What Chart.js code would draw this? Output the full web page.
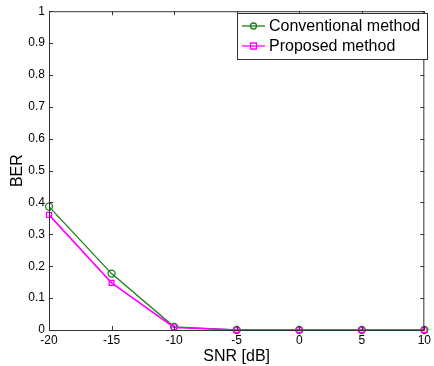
<!DOCTYPE html>
<html lang="en">
<head>
    <meta charset="UTF-8">
    <title>BER vs SNR</title>
    <script src="https://cdn.jsdelivr.net/npm/chart.js"></script>
    <style>
        html, body { margin: 0; padding: 0; background: #fff; }
        #wrap { width: 434px; height: 366px; }
    </style>
</head>
<body>
    <div id="wrap"><canvas id="grafica"></canvas></div>
    <script>
        // --- Datos ---
        const snr = [-20, -15, -10, -5, 0, 5, 10];
        const berConvencional = [0.387, 0.177, 0.010, 0, 0, 0, 0];
        const berPropuesto = [0.361, 0.148, 0.008, 0, 0, 0, 0];
        const nombres = ['Conventional method', 'Proposed method'];
        const xTicks = [-20, -15, -10, -5, 0, 5, 10];
        const yTicks = [0, 0.1, 0.2, 0.3, 0.4, 0.5, 0.6, 0.7, 0.8, 0.9, 1];

        const VERDE = '#1b7f1b';
        const MAGENTA = '#ff00ff';
        const FUENTE = 'Arial, "Liberation Sans", sans-serif';

        // marco + ticks hacia adentro (estilo MATLAB)
        const marcoPlugin = {
            id: 'marco',
            afterDatasetsDraw(chart) {
                const { ctx, chartArea: a, scales } = chart;
                ctx.save();
                ctx.strokeStyle = '#333';
                ctx.lineWidth = 1;
                ctx.strokeRect(a.left + 0.5, a.top + 0.5, a.right - a.left - 1, a.bottom - a.top);
                ctx.beginPath();
                const len = 4;
                xTicks.forEach(v => {
                    const x = Math.round(scales.x.getPixelForValue(v)) + 0.5;
                    ctx.moveTo(x, a.bottom); ctx.lineTo(x, a.bottom - len);
                    ctx.moveTo(x, a.top); ctx.lineTo(x, a.top + len);
                });
                yTicks.forEach(v => {
                    const y = Math.round(scales.y.getPixelForValue(v)) + 0.5;
                    ctx.moveTo(a.left, y); ctx.lineTo(a.left + len, y);
                    ctx.moveTo(a.right, y); ctx.lineTo(a.right - len, y);
                });
                ctx.stroke();
                ctx.restore();
            },
            afterDraw(chart) {
                // leyenda dentro del área
                const { ctx } = chart;
                const colores = [VERDE, MAGENTA];
                const estilos = ['circle', 'rect'];
                const x0 = 237, y0 = 13, w = 190, h = 46;
                ctx.save();
                ctx.fillStyle = '#fff';
                ctx.fillRect(x0, y0, w, h);
                ctx.strokeStyle = '#333';
                ctx.lineWidth = 1;
                ctx.strokeRect(x0 + 0.5, y0 + 0.5, w, h);
                ctx.font = '16px ' + FUENTE;
                ctx.textBaseline = 'middle';
                nombres.forEach((n, i) => {
                    const y = y0 + 13 + i * 20;
                    ctx.strokeStyle = colores[i];
                    ctx.lineWidth = 1.3;
                    ctx.beginPath();
                    ctx.moveTo(x0 + 5, y); ctx.lineTo(x0 + 28, y);
                    ctx.stroke();
                    ctx.beginPath();
                    if (estilos[i] === 'circle') ctx.arc(x0 + 16.5, y, 3, 0, Math.PI * 2);
                    else ctx.rect(x0 + 13.5, y - 3, 6, 6);
                    ctx.stroke();
                    ctx.fillStyle = '#000';
                    ctx.fillText(n, x0 + 32, y + 1);
                });
                ctx.restore();
            }
        };

        new Chart(document.getElementById('grafica'), {
            type: 'line',
            data: {
                labels: snr,
                datasets: [{
                    label: nombres[0],
                    data: snr.map((s, i) => ({ x: s, y: berConvencional[i] })),
                    borderColor: VERDE,
                    backgroundColor: 'transparent',
                    borderWidth: 1.3,
                    pointStyle: 'circle',
                    pointRadius: 3.5,
                    pointBorderWidth: 1.3,
                    pointBackgroundColor: 'transparent',
                    pointBorderColor: VERDE,
                    tension: 0,
                    clip: false,
                    order: 1
                }, {
                    label: nombres[1],
                    data: snr.map((s, i) => ({ x: s, y: berPropuesto[i] })),
                    borderColor: MAGENTA,
                    backgroundColor: 'transparent',
                    borderWidth: 1.6,
                    pointStyle: 'rect',
                    pointRadius: 3.5,
                    pointBorderWidth: 1.3,
                    pointBackgroundColor: 'transparent',
                    pointBorderColor: MAGENTA,
                    tension: 0,
                    clip: false,
                    order: 0
                }]
            },
            options: {
                responsive: true,
                maintainAspectRatio: false,
                animation: false,
                events: [],
                layout: { padding: { top: 10, right: 5, left: 0, bottom: 0 } },
                plugins: {
                    legend: { display: false },
                    tooltip: { enabled: false }
                },
                scales: {
                    x: {
                        type: 'linear',
                        min: -20, max: 10,
                        afterFit: s => { s.height = 36; },
                        afterBuildTicks: s => { s.ticks = xTicks.map(v => ({ value: v })); },
                        grid: { display: false, drawTicks: false },
                        border: { display: false },
                        ticks: { color: '#000', font: { family: FUENTE, size: 12 }, padding: 3, maxRotation: 0 },
                        title: { display: true, text: 'SNR [dB]', color: '#000', font: { family: FUENTE, size: 16 }, padding: { top: 0, bottom: 0 } }
                    },
                    y: {
                        min: 0, max: 1,
                        afterFit: s => { s.width = 49; },
                        afterBuildTicks: s => { s.ticks = yTicks.map(v => ({ value: v })); },
                        grid: { display: false, drawTicks: false },
                        border: { display: false },
                        ticks: { color: '#000', font: { family: FUENTE, size: 12 }, padding: 4,
                            callback: v => String(Math.round(v * 10) / 10) },
                        title: { display: true, text: 'BER', color: '#000', font: { family: FUENTE, size: 16 }, padding: { top: 8, bottom: 0 } }
                    }
                }
            },
            plugins: [marcoPlugin]
        });
    </script>
</body>
</html>
